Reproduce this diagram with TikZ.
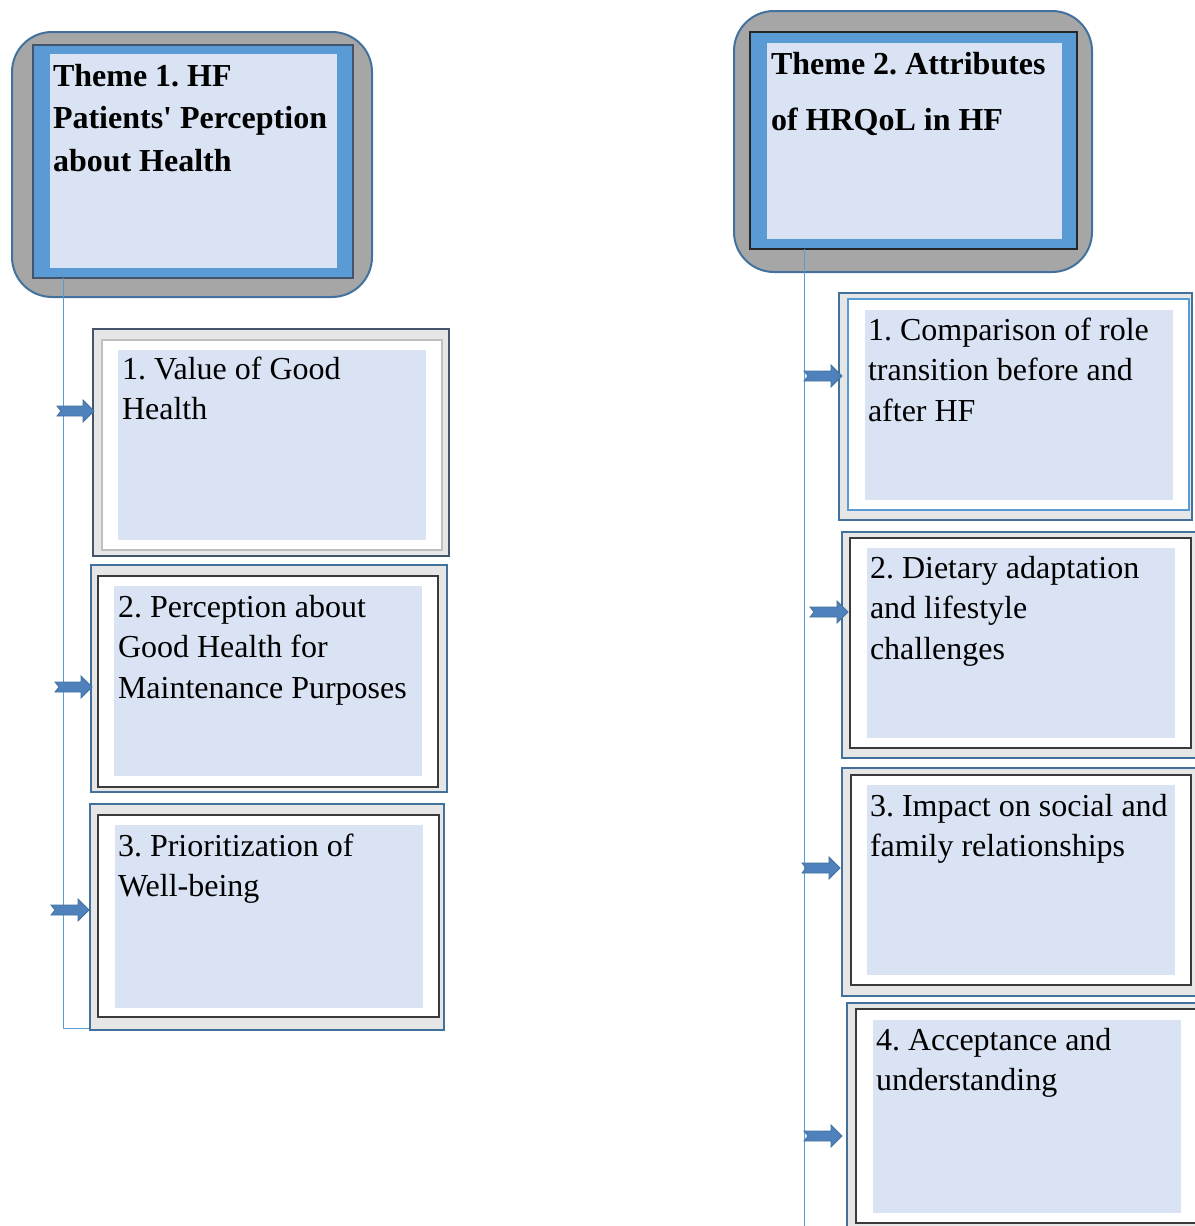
\documentclass[tikz,border=0pt]{standalone}
\usepackage{fontspec}
\setmainfont{Liberation Serif}
\usetikzlibrary{calc}
\definecolor{grayfill}{HTML}{A6A6A6}
\definecolor{steel}{HTML}{41719C}
\definecolor{mblue}{HTML}{5B9BD5}
\definecolor{lightb}{HTML}{DAE3F3}
\definecolor{boxgray}{HTML}{E7E6E6}
\definecolor{slate}{HTML}{44546A}
\definecolor{darkln}{HTML}{3A3A3A}
\definecolor{arrowfill}{HTML}{4F81BD}
\frenchspacing
\newcommand\natsp{\spaceskip=0pt\xspaceskip=0pt\relax}
\begin{document}
\begin{tikzpicture}[x=1pt,y=-1pt,
  shp/.style={anchor=north west, inner sep=0pt, outer sep=0pt},
  themeouter/.style={shp, fill=grayfill, draw=steel, line width=2pt, rounded corners=40pt},
  themeblue/.style={shp, fill=mblue, line width=1.5pt},
  lightrect/.style={shp, fill=lightb},
  subouter/.style={shp, fill=boxgray, line width=2.5pt},
  subinner/.style={shp, fill=white, line width=1.5pt},
  themetext/.style={shp, align=left, text width=330pt, font=\bfseries\fontsize{32}{#1}\selectfont},
  subtext/.style={shp, align=left, text width=330pt, font=\fontsize{32}{40.5}\selectfont},
  conn/.style={draw=mblue, line width=1pt},
  notcharrow/.style={fill=arrowfill, draw=steel, line width=0.8pt, line join=miter}
]
\useasboundingbox (0,0) rectangle (1194,1226);

% Theme 1
\node[themeouter, minimum width=360pt, minimum height=265pt] (t1o) at (12,32) {};
\node[themeblue, draw=slate, minimum width=320pt, minimum height=233pt] (t1b) at (33,45) {};
\node[lightrect, minimum width=287pt, minimum height=214pt] (t1l) at (50,54) {};
\node[themetext=42.5] (t1t) at (53,56.25) {\natsp\strut Theme 1. HF\\Patients\textquotesingle{} Perception\\about Health};

% Theme 2
\node[themeouter, minimum width=358pt, minimum height=261pt] (t2o) at (734,11) {};
\node[themeblue, draw=black!85, line width=1.2pt, minimum width=327pt, minimum height=217pt] (t2b) at (750,32) {};
\node[lightrect, minimum width=295pt, minimum height=196pt] (t2l) at (767,43) {};
\node[themetext=56] (t2t) at (771,34.8) {\natsp\strut Theme 2. Attributes\\of HRQoL in HF};

% connectors
\coordinate (L) at (63,0);
\coordinate (lcorner) at (91,1028);
\coordinate (R) at (804,0);
\coordinate (rend) at (804,1230);
\draw[conn] (t1b.south -| L) -- (L |- lcorner) -- (lcorner);
\draw[conn] (t2b.south -| R) -- (rend);

% Left sub-boxes
\node[subouter, draw=slate, minimum width=356pt, minimum height=227pt] (b1o) at (93,329) {};
\node[subinner, draw=black!25, minimum width=340pt, minimum height=210pt] (b1i) at (102,340) {};
\node[lightrect, minimum width=308pt, minimum height=190pt] (b1l) at (118,350) {};
\node[subtext] (b1t) at (122,350.65) {\natsp\strut 1. Value of Good\\Health};

\node[subouter, draw=steel, minimum width=356pt, minimum height=227pt] (b2o) at (91,565) {};
\node[subinner, draw=darkln, minimum width=340pt, minimum height=211pt] (b2i) at (98,576) {};
\node[lightrect, minimum width=308pt, minimum height=190pt] (b2l) at (114,586) {};
\node[subtext] (b2t) at (118,588.65) {\natsp\strut 2. Perception about\\Good Health for\\Maintenance Purposes};

\node[subouter, draw=steel, minimum width=354pt, minimum height=226pt] (b3o) at (90,804) {};
\node[subinner, draw=darkln, minimum width=341pt, minimum height=202pt] (b3i) at (98,815) {};
\node[lightrect, minimum width=308pt, minimum height=183pt] (b3l) at (115,825) {};
\node[subtext] (b3t) at (118,827.65) {\natsp\strut 3. Prioritization of\\Well-being};

% Right sub-boxes
\node[subouter, draw=steel, minimum width=353pt, minimum height=227pt] (r1o) at (839,293) {};
\node[subinner, draw=mblue, minimum width=341pt, minimum height=211pt] (r1i) at (848,299) {};
\node[lightrect, minimum width=308pt, minimum height=190pt] (r1l) at (865,310) {};
\node[subtext] (r1t) at (868,311.65) {\natsp\strut 1. Comparison of role\\transition before and\\after HF};

\node[subouter, draw=steel, minimum width=360pt, minimum height=226pt] (r2o) at (842,532) {};
\node[subinner, draw=darkln, minimum width=341pt, minimum height=210pt] (r2i) at (850,538) {};
\node[lightrect, minimum width=308pt, minimum height=190pt] (r2l) at (867,548) {};
\node[subtext] (r2t) at (870,549.65) {\natsp\strut 2. Dietary adaptation\\and lifestyle\\challenges};

\node[subouter, draw=steel, minimum width=360pt, minimum height=228pt] (r3o) at (842,768) {};
\node[subinner, draw=darkln, minimum width=340pt, minimum height=210pt] (r3i) at (851,775) {};
\node[lightrect, minimum width=308pt, minimum height=190pt] (r3l) at (867,785) {};
\node[subtext] (r3t) at (870,787.65) {\natsp\strut 3. Impact on social and\\family relationships};

\node[subouter, draw=steel, minimum width=360pt, minimum height=240pt] (r4o) at (847,1003) {};
\node[subinner, draw=darkln, minimum width=350pt, minimum height=214pt] (r4i) at (856,1009) {};
\node[lightrect, minimum width=308pt, minimum height=193pt] (r4l) at (873,1020) {};
\node[subtext] (r4t) at (876,1021.65) {\natsp\strut 4. Acceptance and\\understanding};

% notched arrows
\foreach \b/\dx/\dy/\len in {b1o/1/82/37, b2o/1/122/37, b3o/-1/106/38, r1o/3/83/38, r2o/6/80/38, r3o/-2/100/38, r4o/-5/133/38}{
  \draw[notcharrow, shift={(\b.north west)}, shift={(\dx,\dy)}]
    (-\len,-5) -- (-11,-5) -- (-11,-11) -- (0,0) -- (-11,11) -- (-11,5) -- (-\len,5) -- ({-\len+4},0) -- cycle;
}
\end{tikzpicture}
\end{document}
